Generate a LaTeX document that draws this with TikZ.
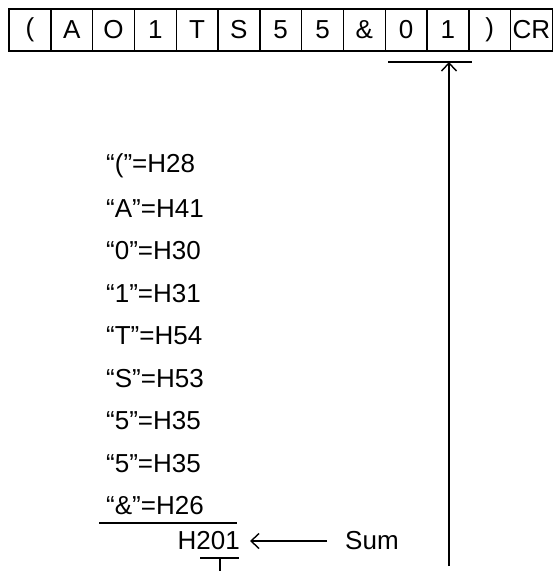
\documentclass[tikz,border=0pt]{standalone}
\usepackage{fontspec}
\setmainfont{Liberation Sans}
\usepackage{tikz}
\usetikzlibrary{calc,arrows.meta}
\definecolor{ink}{HTML}{000000}
\tikzset{
  cell/.style={draw=ink, line width=1.4pt, minimum width=41.8pt, minimum height=42pt, inner sep=0pt, font=\fontsize{26}{30}\selectfont},
  lab/.style={text=ink, font=\fontsize{26}{30}\selectfont, inner sep=0pt},
  rule/.style={draw=ink, line width=1.4pt},
  ptr/.style={draw=ink, line width=1.4pt, -{Straight Barb[length=8pt,width=15pt,line width=1.4pt]}},
}
\begin{document}
\begin{tikzpicture}[x=1pt,y=-1pt]
\useasboundingbox (0,0) rectangle (553,571);
% command frame
\foreach \ch [count=\i] in {{(},A,O,1,T,S,5,5,{\&},0,1,{)},CR}
  \node[cell] (c\i) at ({9+41.8*(\i-0.5)},30) {\ch};

% checksum bracket and pointer
\coordinate (bl) at (388,62);
\coordinate (br) at (472,62);
\coordinate (up) at (449,62);
\coordinate (dn) at (449,566);
\draw[rule] (bl) -- (br);
\draw[ptr] (dn) -- (up);

% character codes
\foreach \txt [count=\i] in {“(”=H28,“A”=H41,“0”=H30,“1”=H31,“T”=H54,“S”=H53,“5”=H35,“5”=H35,“\&”=H26}
  \node[lab, anchor=west] (t\i) at (106,{166+42.5*(\i-1)}) {\txt};

% sum
\coordinate (sl) at (99,523);
\coordinate (sr) at (237,523);
\draw[rule] (sl) -- (sr);
\node[lab, anchor=east] (sum) at (240,541) {H201};
\node[lab, anchor=west] (sumlab) at (345,541) {Sum};
\draw[ptr] ([xshift=-18pt]sumlab.west) -- ([xshift=10pt]sum.east);

% tick below
\coordinate (tl) at (200,558);
\coordinate (tr) at (239,558);
\coordinate (tt) at (220,558);
\coordinate (tb) at (220,571);
\draw[rule] (tl) -- (tr);
\draw[rule] (tt) -- (tb);
\end{tikzpicture}
\end{document}
